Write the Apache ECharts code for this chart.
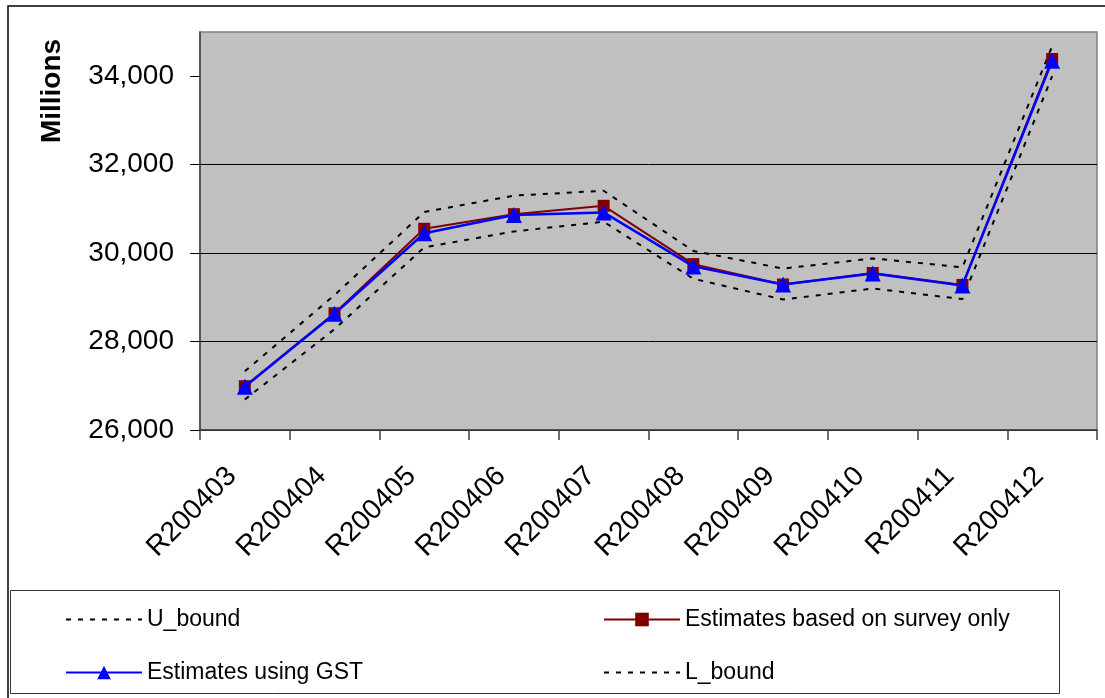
<!DOCTYPE html>
<html>
<head>
<meta charset="utf-8">
<style>
  html, body { margin: 0; padding: 0; background: #ffffff; }
  #chart { width: 1105px; height: 698px; }
</style>
<script src="https://cdn.jsdelivr.net/npm/echarts@6/dist/echarts.min.js"></script>
</head>
<body>
<div id="chart"></div>
<script>
// Monthly estimates (millions) with upper and lower bounds
const categories = ['R200403', 'R200404', 'R200405', 'R200406', 'R200407',
                    'R200408', 'R200409', 'R200410', 'R200411', 'R200412'];
const surveyOnly = [26990, 28640, 30550, 30880, 31070, 29750, 29290, 29550, 29280, 34390];
const usingGST   = [26980, 28630, 30450, 30860, 30920, 29700, 29290, 29540, 29270, 34350];
const upperBound = [27330, 29050, 30930, 31300, 31410, 30050, 29650, 29880, 29680, 34680];
const lowerBound = [26690, 28280, 30130, 30490, 30710, 29420, 28950, 29200, 28960, 34000];
const yTicks = [26000, 28000, 30000, 32000, 34000];

const FONT = '"Liberation Sans", Arial, sans-serif';
const dotted = { color: '#000000', width: 2, type: [5, 7] };
// bound lines have no markers, so their legend icons show the line only
const noMarker = { opacity: 0 };

const chart = echarts.init(document.getElementById('chart'), null, { renderer: 'canvas' });

chart.setOption({
  animation: false,
  backgroundColor: '#ffffff',
  textStyle: { fontFamily: FONT, color: '#000' },
  grid: {
    left: 200, right: 8, top: 32, bottom: 268,
    show: true,
    backgroundColor: '#c0c0c0',
    borderColor: '#808080',
    borderWidth: 1.5
  },
  xAxis: {
    type: 'category',
    data: categories,
    boundaryGap: true,
    axisLine: { show: true, lineStyle: { color: '#404040', width: 1.5 } },
    axisTick: { show: true, length: 10, lineStyle: { color: '#404040', width: 1.5 } },
    axisLabel: {
      interval: 0,
      rotate: 45,
      margin: 29,
      padding: [0, 18, 0, 0],
      fontSize: 28,
      fontFamily: FONT,
      color: '#000'
    },
    splitLine: { show: false }
  },
  yAxis: {
    type: 'value',
    min: 26000,
    max: 35000,
    interval: 2000,
    axisLine: { show: true, lineStyle: { color: '#404040', width: 1.5 } },
    axisTick: { show: true, length: 10, customValues: yTicks, lineStyle: { color: '#000', width: 1 } },
    axisLabel: {
      customValues: yTicks,
      margin: 26,
      fontSize: 28,
      fontFamily: FONT,
      color: '#000',
      formatter: v => v.toLocaleString('en-US')
    },
    splitLine: { show: true, showMaxLine: false, lineStyle: { color: '#000', width: 1 } }
  },
  legend: [
    {
      orient: 'vertical',
      left: 60, top: 603,
      itemWidth: 76, itemHeight: 17, itemGap: 30,
      textStyle: { fontSize: 23, fontFamily: FONT, color: '#000' },
      data: [
        { name: 'U_bound', itemStyle: noMarker },
        'Estimates using GST'
      ]
    },
    {
      orient: 'vertical',
      left: 598, top: 603,
      itemWidth: 76, itemHeight: 17, itemGap: 30,
      textStyle: { fontSize: 23, fontFamily: FONT, color: '#000' },
      data: [
        'Estimates based on survey only',
        { name: 'L_bound', itemStyle: noMarker }
      ]
    }
  ],
  series: [
    {
      name: 'U_bound', type: 'line', data: upperBound,
      symbol: 'none', lineStyle: dotted, itemStyle: { color: '#000' }, z: 2
    },
    {
      name: 'Estimates based on survey only', type: 'line', data: surveyOnly,
      symbol: 'rect', symbolSize: 12,
      lineStyle: { color: '#800000', width: 2 },
      itemStyle: { color: '#800000' }, z: 3
    },
    {
      name: 'Estimates using GST', type: 'line', data: usingGST,
      symbol: 'triangle', symbolSize: 16,
      lineStyle: { color: '#0000ff', width: 2.5 },
      itemStyle: { color: '#0000ff' }, z: 4
    },
    {
      name: 'L_bound', type: 'line', data: lowerBound,
      symbol: 'none', lineStyle: dotted, itemStyle: { color: '#000' }, z: 2
    }
  ],
  graphic: [
    {
      type: 'rect', silent: true, z: -10,
      shape: { x: 8, y: 6, width: 1130, height: 720 },
      style: { fill: 'none', stroke: '#000', lineWidth: 1.5 }
    },
    {
      type: 'rect', silent: true, z: -5,
      shape: { x: 10.5, y: 590.5, width: 1049, height: 103 },
      style: { fill: 'none', stroke: '#333', lineWidth: 1 }
    },
    {
      type: 'text', silent: true,
      x: 52, y: 91, rotation: Math.PI / 2,
      style: {
        text: 'Millions',
        font: 'bold 28px ' + FONT,
        fill: '#000',
        align: 'center',
        verticalAlign: 'middle'
      }
    }
  ]
});
</script>
</body>
</html>
